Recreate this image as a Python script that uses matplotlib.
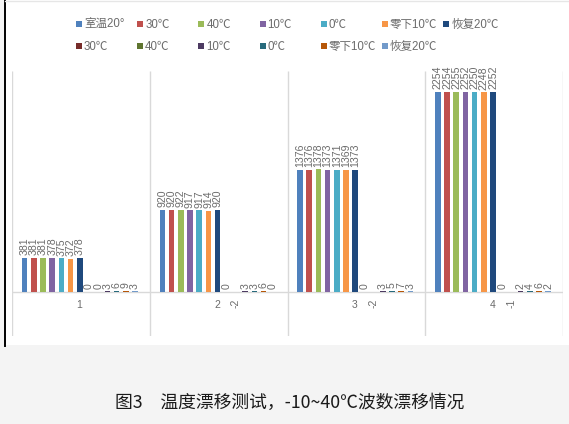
import matplotlib.pyplot as plt
from matplotlib.patches import Rectangle

# ---- data ----
groups = ["1", "2", "3", "4"]

room20 = [381, 920, 1376, 2254]
t30 = [381, 920, 1376, 2254]
t40 = [381, 922, 1378, 2255]
t10 = [378, 917, 1373, 2252]
t0 = [375, 917, 1371, 2250]
tm10 = [372, 914, 1369, 2248]
back20 = [378, 920, 1373, 2252]

# drift relative to room temperature
d30 = [0, 0, 0, 0]
d40 = [0, -2, -2, -1]
d10 = [3, 3, 3, 2]
d0 = [6, 3, 5, 4]
dm10 = [9, 6, 7, 6]
dback20 = [3, 0, 3, 2]

series = [
    ("室温20°", room20, "#4F81BD"),
    ("30℃", t30, "#C0504D"),
    ("40℃", t40, "#9BBB59"),
    ("10℃", t10, "#8064A2"),
    ("0℃", t0, "#4BACC6"),
    ("零下10℃", tm10, "#F79646"),
    ("恢复20℃", back20, "#1F497D"),
    ("30℃", d30, "#772C2A"),
    ("40℃", d40, "#5F7530"),
    ("10℃", d10, "#4D3B62"),
    ("0℃", d0, "#276A7C"),
    ("零下10℃", dm10, "#B65708"),
    ("恢复20℃", dback20, "#729ACA"),
]

CAPTION = "图3　温度漂移测试，-10~40℃波数漂移情况"

W, H = 569, 424
LABEL_C = "#6b6b6b"
GRID_C = "#d9d9d9"
FONTS = ["Liberation Sans", "Noto Sans CJK SC", "DejaVu Sans"]

fig = plt.figure(figsize=(W / 100, H / 100), dpi=100)
fig.patch.set_facecolor("#f4f4f4")

# background layer in pixel coordinates
bg = fig.add_axes([0, 0, 1, 1])
bg.set_xlim(0, W)
bg.set_ylim(H, 0)
bg.axis("off")
bg.set_zorder(0)
bg.add_patch(Rectangle((5, 0), W - 5, 345, facecolor="white", edgecolor="none"))
bg.plot([5.5, 5.5], [0, 346], color="black", lw=1.4)
bg.plot([5, W], [0.8, 0.8], color="#e6e6e6", lw=1)

# legend, laid out row by row like the original
for i, (name, _, color) in enumerate(series):
    row, col = (0, i) if i < 7 else (1, i - 7)
    x = 79 + 61.2 * col
    y = 24 + 22 * row
    bg.add_patch(Rectangle((x - 3, y - 3.5), 6, 6, facecolor=color, edgecolor="none"))
    bg.text(x + 5, y + 1, name, fontsize=8.3, color=LABEL_C, va="center", ha="left",
            family=FONTS)

bg.text(290, 403, CAPTION, fontsize=12.8, color="#1a1a1a", ha="center", va="center",
        family=["Noto Sans CJK SC", "DejaVu Sans"])

# main chart
ax = fig.add_axes([12 / W, 1 - 336 / H, (563 - 12) / W, (336 - 71) / H])
ax.set_zorder(1)
ax.patch.set_visible(False)
ax.set_xlim(-0.5, 3.5)
ax.set_ylim(-500, 2488)
ax.axis("off")

ax.vlines([-0.5, 0.5, 1.5, 2.5, 3.5], -500, 2488, color=GRID_C, lw=1)
ax.axhline(0, color=GRID_C, lw=1)

slot = 9.2 / 137.75
bar_w = 5.6 / 137.75
xs = list(range(len(groups)))
for k, (name, vals, color) in enumerate(series):
    pos = [x + (k - 6) * slot - 0.008 for x in xs]
    ax.bar(pos, vals, width=bar_w, color=color, zorder=2)
    for p, v in zip(pos, vals):
        up = v >= 0
        ax.annotate(str(v), (p, v), xytext=(0, 2 if up else -5),
                    textcoords="offset points", rotation=90, ha="center",
                    va="bottom" if up else "top", fontsize=7.6, color=LABEL_C,
                    family=FONTS, clip_on=False, annotation_clip=False)

for x, g in zip(xs, groups):
    ax.text(x - 0.01, -150, g, ha="center", va="center", fontsize=7.5,
            color=LABEL_C, family=FONTS)

fig.savefig("out.png", dpi=100, facecolor=fig.get_facecolor())
